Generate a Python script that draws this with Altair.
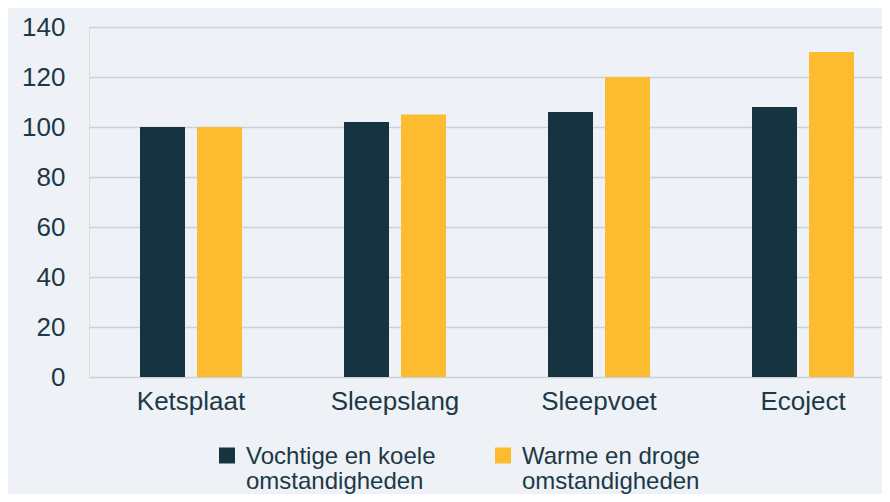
import altair as alt
import pandas as pd

categories = ["Ketsplaat", "Sleepslang", "Sleepvoet", "Ecoject"]
series = ["Vochtige en koele omstandigheden", "Warme en droge omstandigheden"]
vochtig_koel = [100, 102, 106, 108]
warm_droog = [100, 105, 120, 130]
colors = ["#163440", "#fdbb30"]
y_ticks = [0, 20, 40, 60, 80, 100, 120, 140]

rows = []
for i, c in enumerate(categories):
    rows.append({"categorie": c, "serie": series[0], "waarde": vochtig_koel[i]})
    rows.append({"categorie": c, "serie": series[1], "waarde": warm_droog[i]})
df = pd.DataFrame(rows)

text_color = "#1d3846"
font = "Liberation Sans"

chart = alt.Chart(df).mark_bar().encode(
    x=alt.X(
        "categorie:N",
        sort=categories,
        scale=alt.Scale(range=[0, 816], paddingInner=0, paddingOuter=0),
        axis=alt.Axis(title=None, labelAngle=0, domain=False, ticks=False,
                      labelPadding=11, labelFontSize=26, labelColor=text_color,
                      labelFont=font),
    ),
    xOffset=alt.XOffset("serie:N", sort=series,
                        scale=alt.Scale(paddingInner=0.2105, paddingOuter=0.8947)),
    y=alt.Y(
        "waarde:Q",
        scale=alt.Scale(domain=[0, 140], nice=False),
        axis=alt.Axis(title=None, values=y_ticks, grid=True, gridColor="#c9d2da",
                      gridWidth=1.5, domain=False, ticks=False, labelPadding=24,
                      labelFontSize=26, labelColor=text_color, labelFont=font),
    ),
    color=alt.Color(
        "serie:N",
        sort=series,
        scale=alt.Scale(domain=series, range=colors),
        legend=alt.Legend(
            title=None, orient="none", legendX=126, legendY=406,
            direction="horizontal", columns=2,
            symbolType="M-1,0.3125H1V2.3125H-1Z",
            symbolSize=256, symbolStrokeWidth=0, labelOffset=7,
            columnPadding=55, labelLimit=400, labelFontSize=24, labelFont=font,
            labelColor=text_color, labelBaseline="top",
            labelExpr="split(replace(datum.label, ' omstandigheden', '|omstandigheden'), '|')",
        ),
    ),
).properties(
    width=793,
    height=350,
    background="#eef2f6",
    padding={"left": 81, "top": 19, "right": 0, "bottom": 117},
    autosize=alt.AutoSizeParams(type="none"),
).configure_view(stroke=None).configure(style={"guide-label": {"lineHeight": 25}})

chart.save("out.html", embed_options={"renderer": "svg", "actions": False})
